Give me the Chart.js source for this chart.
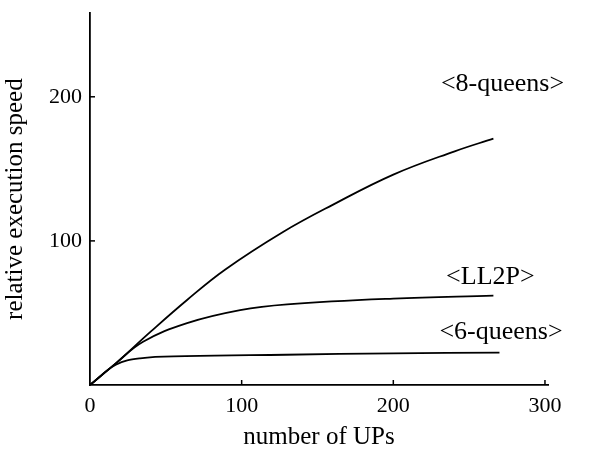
<!DOCTYPE html>
<html>
<head>
<meta charset="utf-8">
<script src="https://cdn.jsdelivr.net/npm/chart.js@4"></script>
<style>
  html, body { margin: 0; padding: 0; background: #fff; }
  #wrap { width: 593px; height: 452px; }
</style>
</head>
<body>
<div id="wrap"><canvas id="grafica" width="593" height="452"></canvas></div>
<script>
// data: x = number of UPs, y = relative execution speed
const queens8X = [0, 17, 40, 64, 89, 127, 160, 200, 240, 266];
const queens8Y = [0, 15, 37, 59, 80, 106, 125, 146, 162, 171];
const ll2pX = [0, 17, 35, 64, 99, 130, 200, 266];
const ll2pY = [0, 15, 30, 43, 52, 56, 60, 62];
const queens6X = [0, 17, 33, 63, 129, 200, 270];
const queens6Y = [0, 14, 18.5, 20, 21, 22, 22.5];

const xTicks = [0, 100, 200, 300];
const yTicks = [100, 200];

// label text and where it sits, in data units
const labelTexts = ['<8-queens>', '<LL2P>', '<6-queens>'];
const labelX = [272, 264, 271];
const labelY = [209, 75, 37];

const serif = '"Liberation Serif", "DejaVu Serif", serif';
const ctx = document.getElementById('grafica').getContext('2d');

function puntos(xs, ys) {
  return xs.map((x, i) => ({ x, y: ys[i] }));
}

function serie(label, xs, ys) {
  return {
    label,
    data: puntos(xs, ys),
    borderColor: '#000',
    borderWidth: 1.8,
    pointRadius: 0,
    fill: false,
    tension: 0.4
  };
}

// small tick marks inside the plot and the curve labels
const extras = {
  id: 'extras',
  afterDraw(chart) {
    const c = chart.ctx;
    const xs = chart.scales.x, ys = chart.scales.y;
    c.save();
    c.strokeStyle = '#000';
    c.lineWidth = 1.5;
    yTicks.forEach(v => {
      const py = ys.getPixelForValue(v);
      c.beginPath();
      c.moveTo(xs.left, py);
      c.lineTo(xs.left + 5, py);
      c.stroke();
    });
    xTicks.slice(1).forEach(v => {
      const px = xs.getPixelForValue(v);
      c.beginPath();
      c.moveTo(px, ys.bottom);
      c.lineTo(px, ys.bottom - 5);
      c.stroke();
    });
    c.fillStyle = '#000';
    c.font = '26px ' + serif;
    c.textAlign = 'center';
    c.textBaseline = 'middle';
    labelTexts.forEach((t, i) => {
      c.fillText(t, xs.getPixelForValue(labelX[i]), ys.getPixelForValue(labelY[i]));
    });
    c.restore();
  }
};

new Chart(ctx, {
  type: 'line',
  data: {
    datasets: [
      serie('8-queens', queens8X, queens8Y),
      serie('LL2P', ll2pX, ll2pY),
      serie('6-queens', queens6X, queens6Y)
    ]
  },
  options: {
    responsive: false,
    animation: false,
    layout: { padding: { top: 0, right: 45, left: 0, bottom: 0 } },
    plugins: { legend: { display: false }, tooltip: { enabled: false } },
    scales: {
      x: {
        type: 'linear',
        min: 0,
        max: 302,
        afterBuildTicks: s => { s.ticks = xTicks.map(v => ({ value: v })); },
        afterFit: s => { s.height = 67; },
        grid: { display: false },
        border: { display: true, color: '#000', width: 1.8 },
        ticks: { color: '#000', font: { family: serif, size: 22 }, padding: 0 },
        title: {
          display: true,
          text: 'number of UPs',
          color: '#000',
          font: { family: serif, size: 25 },
          padding: { top: 6, bottom: 0 }
        }
      },
      y: {
        min: 0,
        max: 258,
        afterBuildTicks: s => { s.ticks = yTicks.map(v => ({ value: v })); },
        afterFit: s => { s.width = 90; },
        grid: { display: false },
        border: { display: true, color: '#000', width: 1.8 },
        ticks: { color: '#000', font: { family: serif, size: 22 }, padding: 0 },
        title: {
          display: true,
          text: 'relative execution speed',
          color: '#000',
          font: { family: serif, size: 25 },
          padding: { top: 0, bottom: 4 }
        }
      }
    }
  },
  plugins: [extras]
});
</script>
</body>
</html>
